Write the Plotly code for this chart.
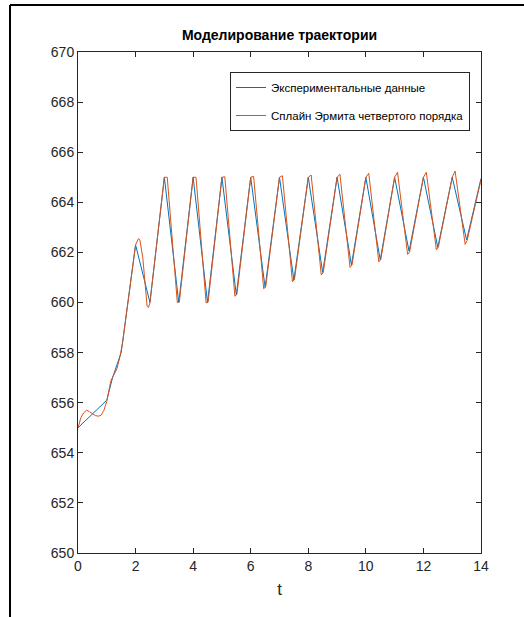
import plotly.graph_objects as go

# Experimental data (blue)
t_exp = [0, 0.5, 1.0, 1.2, 1.5, 2.0, 2.5, 3.0, 3.5, 4.0, 4.5, 5.0, 5.5, 6.0, 6.5,
         7.0, 7.5, 8.0, 8.5, 9.0, 9.5, 10.0, 10.5, 11.0, 11.5, 12.0, 12.5, 13.0, 13.5, 14.0]
v_exp = [655.0, 655.55, 656.1, 657.0, 658.0, 662.3, 660.0, 665.0, 660.0, 665.0, 660.0,
         665.0, 660.3, 665.0, 660.6, 665.0, 660.9, 665.0, 661.2, 665.0, 661.5, 665.0,
         661.7, 665.0, 662.05, 665.0, 662.2, 665.0, 662.5, 664.95]

# Hermite spline (orange)
t_spl = [0.0, 0.1, 0.2, 0.3, 0.4, 0.5, 0.6, 0.7, 0.8, 0.9, 1.0, 1.1, 1.15, 1.25, 1.35,
         1.45, 1.55, 1.7, 1.85, 2.0, 2.1, 2.15, 2.25, 2.4, 2.45, 2.5, 2.75,
         3.0, 3.1, 3.45, 3.52,
         4.0, 4.1, 4.45, 4.52,
         5.0, 5.1, 5.45, 5.52,
         6.0, 6.1, 6.45, 6.52,
         7.0, 7.1, 7.45, 7.52,
         8.0, 8.1, 8.45, 8.52,
         9.0, 9.1, 9.45, 9.52,
         10.0, 10.1, 10.45, 10.52,
         11.0, 11.1, 11.45, 11.52,
         12.0, 12.1, 12.45, 12.52,
         13.0, 13.1, 13.45, 13.52,
         14.0]
v_spl = [655.0, 655.4, 655.6, 655.7, 655.64, 655.56, 655.49, 655.46, 655.5, 655.7, 656.05,
         656.65, 656.9, 657.12, 657.35, 657.8, 658.4, 659.7, 661.0, 662.3, 662.55, 662.5,
         661.8, 659.85, 659.8, 660.0, 662.5,
         665.0, 665.0, 660.0, 660.02,
         665.0, 665.0, 659.98, 660.02,
         665.0, 665.02, 660.25, 660.32,
         665.0, 665.04, 660.55, 660.62,
         665.0, 665.06, 660.83, 660.92,
         665.0, 665.09, 661.1, 661.2,
         665.0, 665.12, 661.4, 661.5,
         665.0, 665.16, 661.62, 661.72,
         665.0, 665.2, 661.92, 662.02,
         665.0, 665.2, 662.1, 662.22,
         665.0, 665.25, 662.32, 662.48,
         664.9]

x_ticks = [0, 2, 4, 6, 8, 10, 12, 14]
y_ticks = [650, 652, 654, 656, 658, 660, 662, 664, 666, 668, 670]

FONT = "Liberation Sans, Arial, sans-serif"
AX = "#262626"

fig = go.Figure()
fig.add_trace(go.Scatter(x=t_exp, y=v_exp, mode="lines", name="Экспериментальные данные",
                         line=dict(color="#0072BD", width=1), legendgroup="a"))
fig.add_trace(go.Scatter(x=t_spl, y=v_spl, mode="lines", name="Сплайн Эрмита четвертого порядка",
                         line=dict(color="#D95319", width=1), legendgroup="b"))

W, H = 524, 617
L, R, T, B = 78, 481, 52, 553
pw, ph = R - L, B - T

def px(xp):
    return (xp - L) / pw

def py(yp):
    return (B - yp) / ph

axis_common = dict(showgrid=False, zeroline=False, showline=True, linecolor=AX, linewidth=1,
                   mirror="ticks", ticks="inside", ticklen=5, tickcolor=AX, tickwidth=1,
                   tickfont=dict(family=FONT, size=14, color=AX))

fig.update_layout(
    width=W, height=H,
    margin=dict(l=L, r=W - R, t=T, b=H - B, pad=0),
    paper_bgcolor="white", plot_bgcolor="white",
    title=dict(text="<b>Моделирование траектории</b>", x=(L + R) / 2 / W, xanchor="center",
               y=1 - 35 / H, yanchor="middle", font=dict(family=FONT, size=14, color="black")),
    xaxis=dict(range=[0, 14], tickvals=x_ticks, ticktext=[str(v) for v in x_ticks],
               title=dict(text="t", font=dict(family=FONT, size=17, color=AX), standoff=10),
               **axis_common),
    yaxis=dict(range=[650, 670], tickvals=y_ticks, ticktext=[str(v) for v in y_ticks],
               **axis_common),
    legend=dict(x=px(230), y=py(72), xanchor="left", yanchor="top",
                bordercolor=AX, borderwidth=1, bgcolor="white",
                font=dict(family=FONT, size=11.5, color="black"),
                tracegroupgap=9, itemwidth=30),
    showlegend=True,
    shapes=[
        dict(type="line", xref="paper", yref="paper", x0=px(10), x1=px(10), y0=py(5), y1=py(617),
             line=dict(color="black", width=2)),
        dict(type="line", xref="paper", yref="paper", x0=px(10), x1=px(524), y0=py(5), y1=py(5),
             line=dict(color="black", width=2)),
    ],
)

fig.write_html("out.html")
